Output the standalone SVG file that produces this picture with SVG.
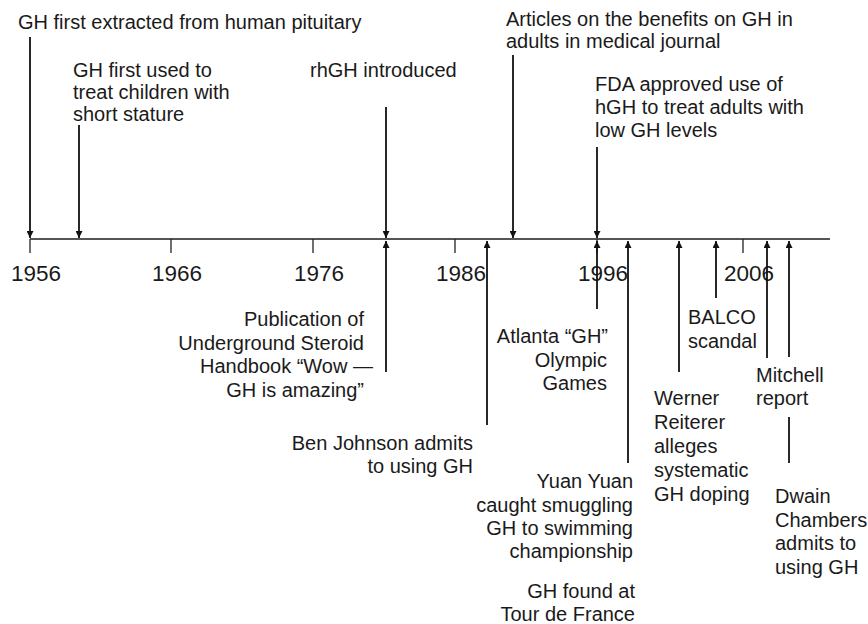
<svg xmlns="http://www.w3.org/2000/svg" width="868" height="624" viewBox="0 0 868 624">
<defs>
<style>
.t{font-family:"Liberation Sans",Arial,sans-serif;font-size:20px;fill:#1a1a1a}
.e{text-anchor:end}
.y{font-family:"Liberation Sans",Arial,sans-serif;font-size:22.5px;fill:#1a1a1a;text-anchor:middle}
.a{stroke:#111;stroke-width:1.8;fill:none}
.ax{stroke:#555;stroke-width:2;fill:none}
.tk{stroke:#222;stroke-width:1.3;fill:none}
</style>
<marker id="ah" viewBox="0 0 8 8" refX="8" refY="4" markerWidth="8" markerHeight="7" orient="auto" markerUnits="userSpaceOnUse">
<path d="M0,0 L8,4 L0,8 z" fill="#111"/>
</marker>
</defs>
<rect width="868" height="624" fill="#fff"/>
<g id="axis">
<line class="ax" x1="30" y1="239" x2="830" y2="239"/>
<line class="tk" x1="30" y1="239" x2="30" y2="253"/>
<line class="tk" x1="171" y1="239" x2="171" y2="253"/>
<line class="tk" x1="313" y1="239" x2="313" y2="253"/>
<line class="tk" x1="455" y1="239" x2="455" y2="253"/>
<line class="tk" x1="597" y1="239" x2="597" y2="253"/>
<line class="tk" x1="743" y1="239" x2="743" y2="253"/>
<text class="y" x="36" y="281">1956</text>
<text class="y" x="177" y="281">1966</text>
<text class="y" x="319" y="281">1976</text>
<text class="y" x="461" y="281">1986</text>
<text class="y" x="603" y="281">1996</text>
<text class="y" x="749" y="281">2006</text>
</g>
<g id="connectors">
<line class="a" x1="30" y1="37" x2="30" y2="238" marker-end="url(#ah)"/>
<line class="a" x1="79" y1="125" x2="79" y2="238" marker-end="url(#ah)"/>
<line class="a" x1="386" y1="107" x2="386" y2="238" marker-end="url(#ah)"/>
<line class="a" x1="513" y1="55" x2="513" y2="238" marker-end="url(#ah)"/>
<line class="a" x1="597" y1="147" x2="597" y2="238" marker-end="url(#ah)"/>
<line class="a" x1="386" y1="372" x2="386" y2="241" marker-end="url(#ah)"/>
<line class="a" x1="487" y1="425" x2="487" y2="241" marker-end="url(#ah)"/>
<line class="a" x1="597" y1="309" x2="597" y2="241" marker-end="url(#ah)"/>
<line class="a" x1="628" y1="463" x2="628" y2="241" marker-end="url(#ah)"/>
<line class="a" x1="679" y1="372" x2="679" y2="241" marker-end="url(#ah)"/>
<line class="a" x1="716" y1="298" x2="716" y2="241" marker-end="url(#ah)"/>
<line class="a" x1="767" y1="358" x2="767" y2="241" marker-end="url(#ah)"/>
<line class="a" x1="789" y1="357" x2="789" y2="241" marker-end="url(#ah)"/>
<line class="a" x1="789" y1="417" x2="789" y2="463"/>
</g>
<g id="n1956"><text class="t" x="18" y="29">GH first extracted from human pituitary</text></g>
<g id="nchildren"><text class="t" x="73" y="77">GH first used to</text><text class="t" x="73" y="99">treat children with</text><text class="t" x="73" y="121">short stature</text></g>
<g id="nrhgh"><text class="t" x="310" y="77">rhGH introduced</text></g>
<g id="narticles"><text class="t" x="506" y="26">Articles on the benefits on GH in</text><text class="t" x="506" y="48">adults in medical journal</text></g>
<g id="nfda"><text class="t" x="595" y="91">FDA approved use of</text><text class="t" x="595" y="114">hGH to treat adults with</text><text class="t" x="595" y="137">low GH levels</text></g>
<g id="nhandbook"><text class="t e" x="364" y="326">Publication of</text><text class="t e" x="364" y="350">Underground Steroid</text><text class="t e" x="373" y="373">Handbook “Wow —</text><text class="t e" x="364" y="397">GH is amazing”</text></g>
<g id="nbenjohnson"><text class="t e" x="473" y="450">Ben Johnson admits</text><text class="t e" x="473" y="473">to using GH</text></g>
<g id="natlanta"><text class="t e" x="608" y="343">Atlanta “GH”</text><text class="t e" x="607" y="367">Olympic</text><text class="t e" x="607" y="390">Games</text></g>
<g id="nyuanyuan"><text class="t e" x="633" y="488">Yuan Yuan</text><text class="t e" x="633" y="512">caught smuggling</text><text class="t e" x="633" y="535">GH to swimming</text><text class="t e" x="633" y="558">championship</text></g>
<g id="ntour"><text class="t e" x="635" y="598">GH found at</text><text class="t e" x="635" y="621">Tour de France</text></g>
<g id="nwerner"><text class="t" x="654" y="405">Werner</text><text class="t" x="654" y="429">Reiterer</text><text class="t" x="654" y="453">alleges</text><text class="t" x="654" y="477">systematic</text><text class="t" x="654" y="501">GH doping</text></g>
<g id="nbalco"><text class="t" x="688" y="324">BALCO</text><text class="t" x="688" y="348">scandal</text></g>
<g id="nmitchell"><text class="t" x="756" y="382">Mitchell</text><text class="t" x="756" y="405">report</text></g>
<g id="ndwain"><text class="t" x="775" y="503">Dwain</text><text class="t" x="775" y="527">Chambers</text><text class="t" x="775" y="550">admits to</text><text class="t" x="775" y="574">using GH</text></g>
</svg>
